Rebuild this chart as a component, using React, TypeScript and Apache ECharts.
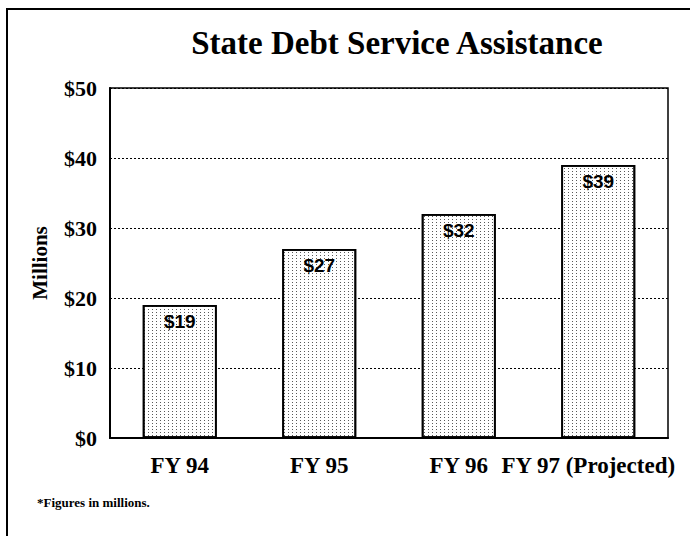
import React, { useEffect, useRef } from "react";
import * as echarts from "echarts";

const categories = ["FY 94", "FY 95", "FY 96", "FY 97 (Projected)"];
const values = [19, 27, 32, 39];
const yTicks = [0, 10, 20, 30, 40, 50];

const SERIF = "'Liberation Serif', 'Times New Roman', serif";
const SANS = "'Liberation Sans', Arial, sans-serif";

export default function App() {
  const ref = useRef<HTMLDivElement>(null);
  useEffect(() => {
    if (!ref.current) return;
    const chart = echarts.init(ref.current, null, { renderer: "svg" });
    chart.setOption({
      animation: false,
      backgroundColor: "#fff",
      title: {
        text: "State Debt Service Assistance",
        left: 392,
        textAlign: "center",
        top: 21,
        textStyle: { fontFamily: SERIF, fontWeight: "bold", fontSize: 33, color: "#000" },
      },
      grid: {
        left: 110,
        right: 22,
        top: 88,
        bottom: 98,
        show: true,
        borderColor: "#000",
        borderWidth: 1.5,
        backgroundColor: "transparent",
      },
      xAxis: {
        type: "category",
        data: categories.map((c, i) =>
          i === categories.length - 1
            ? { value: c, textStyle: { padding: [0, 20, 0, 0] } }
            : c
        ),
        axisLine: { show: true, lineStyle: { color: "#000", width: 2 } },
        axisTick: { show: false },
        axisLabel: {
          fontFamily: SERIF,
          fontWeight: "bold",
          fontSize: 23,
          color: "#000",
          margin: 16,
          interval: 0,
        },
      },
      yAxis: {
        type: "value",
        min: yTicks[0],
        max: yTicks[yTicks.length - 1],
        interval: 10,
        name: "Millions",
        nameLocation: "middle",
        nameGap: 60,
        nameTextStyle: { fontFamily: SERIF, fontWeight: "bold", fontSize: 21, color: "#000" },
        axisLine: { show: true, lineStyle: { color: "#000", width: 2 } },
        axisTick: { show: false },
        axisLabel: {
          fontFamily: SERIF,
          fontWeight: "bold",
          fontSize: 22,
          color: "#000",
          margin: 13,
          formatter: (v: number) => "$" + v,
        },
        splitLine: { show: true, lineStyle: { color: "#000", width: 1.2, type: [2, 2] } },
      },
      series: [
        {
          type: "bar",
          data: values,
          barWidth: 74,
          itemStyle: {
            color: "#fff",
            borderColor: "#000",
            borderWidth: 1.8,
            decal: {
              symbol: "rect",
              symbolSize: 1,
              dashArrayX: [1, 3],
              dashArrayY: [1, 2],
              color: "rgba(0,0,0,0.65)",
              rotation: 0,
            },
          },
          label: {
            show: true,
            position: "insideTop",
            distance: 7,
            formatter: (p: any) => "$" + p.value,
            fontFamily: SANS,
            fontWeight: "bold",
            fontSize: 19,
            color: "#000",
          },
        },
      ],
      graphic: [
        {
          type: "polyline",
          shape: { points: [[7, 536], [7, 9], [690, 9]] },
          style: { stroke: "#000", lineWidth: 2, fill: "none" },
        },
        {
          type: "text",
          left: 37,
          top: 496,
          style: {
            text: "*Figures in millions.",
            fontFamily: SERIF,
            fontWeight: "bold",
            fontSize: 13,
            fill: "#000",
          },
        },
      ],
    });
    return () => chart.dispose();
  }, []);
  return <div ref={ref} style={{ width: 690, height: 536, position: "absolute", left: 0, top: 0 }} />;
}
